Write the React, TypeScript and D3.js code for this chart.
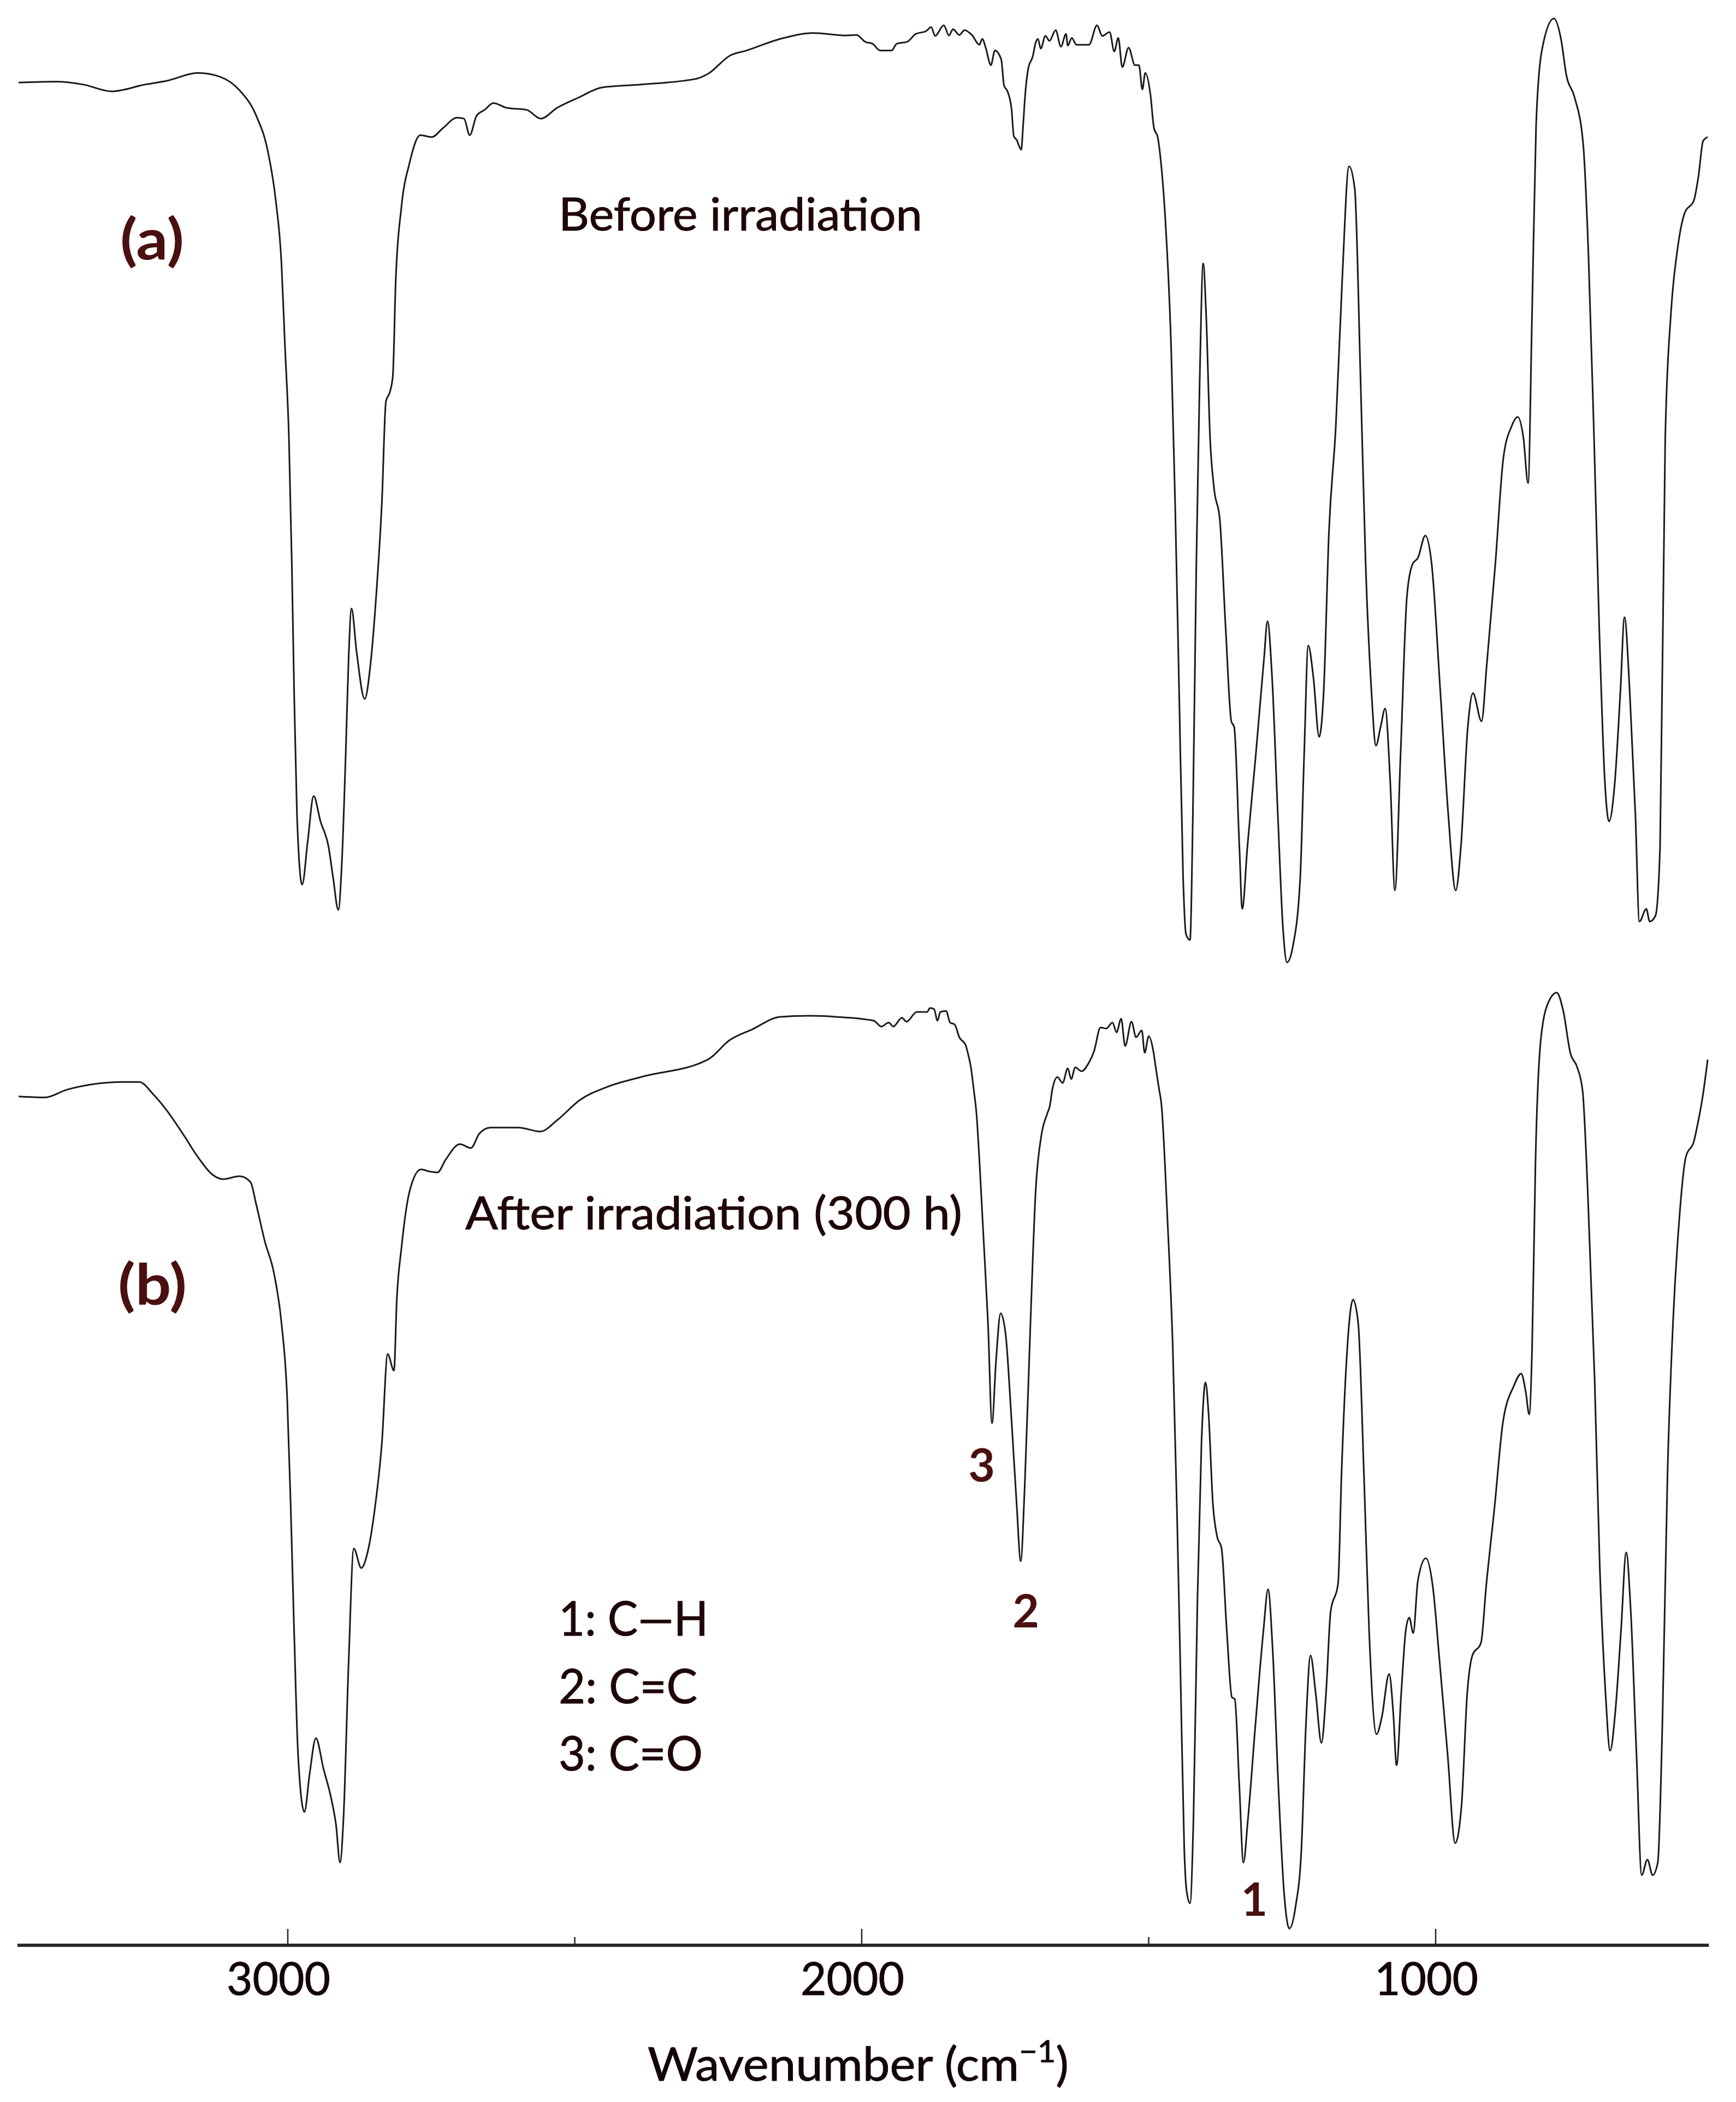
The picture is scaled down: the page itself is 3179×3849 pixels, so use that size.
import React from 'react';
import * as d3 from 'd3';

// Panel (a): before irradiation — wavenumber (cm-1) and relative transmittance (arb. 0-100)
const wavenumbersA = [
  3469, 3404, 3356, 3307, 3249, 3210, 3157, 3118, 3084, 3055, 3035, 3021, 3011, 3005, 2998, 2993, 2989, 2984,
  2975, 2965, 2955, 2943, 2929, 2921, 2912, 2906, 2899, 2894, 2889, 2880, 2866, 2856, 2846, 2836, 2829, 2822,
  2817, 2812, 2802, 2788, 2769, 2749, 2730, 2705, 2693, 2683, 2671, 2657, 2642, 2618, 2584, 2559, 2531, 2492,
  2453, 2385, 2288, 2268, 2229, 2201, 2142, 2084,
  2027, 2009, 1994, 1981, 1968, 1948, 1939, 1921, 1906, 1888, 1879, 1872, 1857, 1848, 1841, 1830, 1821, 1808,
  1795, 1790, 1784, 1775, 1768, 1757, 1752, 1746, 1739, 1735, 1730, 1722, 1719, 1715, 1710, 1702, 1697, 1693,
  1688, 1680, 1673, 1662, 1653, 1644, 1641, 1634, 1626, 1604, 1590, 1581, 1568, 1560, 1553, 1546, 1535, 1524,
  1517, 1511, 1506, 1497, 1491, 1484, 1479,
  1471, 1461,
  1454, 1447, 1440, 1435, 1428, 1423, 1417, 1411, 1405, 1400, 1393, 1386, 1376, 1366, 1356, 1351, 1342, 1337,
  1328, 1313, 1299, 1293, 1285, 1275, 1266, 1259, 1249, 1236, 1229, 1222, 1213, 1203, 1195, 1186, 1174, 1163,
  1151, 1141, 1131, 1122, 1112, 1104, 1096, 1088, 1079, 1071, 1061, 1050, 1040, 1031, 1018, 1007, 992, 978,
  965, 956, 944, 935, 920, 911, 896, 882, 868, 857, 847, 839, 832, 825, 815, 794, 782, 772, 758, 743, 734, 724,
  715, 705, 698, 688, 678, 671, 662, 652, 645, 633, 627, 617, 609, 600, 590, 579, 566, 550, 542, 534, 526,
];
const transmittanceA = [
  91.5, 91.6, 91.3, 90.6, 91.3, 91.7, 92.5, 92.1, 90.7, 88.1, 84.5, 79.4, 72.9, 64.5, 54.9, 42, 29, 16.2,
  9.0, 13.6, 18.1, 15.5, 12.9, 9.7, 6.4, 11, 22.6, 32.3, 37.4, 32.9, 28.1, 31.6, 38.7, 48.4, 58.7, 59.7,
  61.3, 71, 78.7, 83.2, 86.1, 85.9, 86.8, 87.9, 87.8, 86.1, 88.1, 88.7, 89.4, 88.9, 88.7, 87.8, 88.9, 90,
  91, 91.3, 91.9, 92.4, 94.3, 94.8, 96, 96.6,
  96.35, 96.4, 95.7, 95.5, 94.8, 94.8, 95.5, 95.7, 96.5, 96.8, 97.2, 96.3, 97.4, 96.35, 97.0, 96.4, 96.9, 96.4,
  95.4, 96.0, 95.1, 93.3, 94.8, 93.9, 91.2, 90.6, 88.8, 86.0, 85.6, 84.6, 86.9, 90.4, 92.9, 94.2, 95.6, 96.0,
  95.0, 96.3, 95.8, 96.9, 95.2, 96.5, 95.3, 96.1, 95.4, 95.4, 97.4, 96.3, 96.7, 94.7, 96.1, 93.1, 95.1, 93.3,
  93.3, 90.8, 92.5, 90.3, 86.9, 85.8, 83.5,
  77.4, 64.5,
  48.4, 29, 9.7, 3.9, 3.3, 16.2, 42, 61.3, 72.9, 67.8, 54.9, 49.7, 46.5, 35.5, 25.8, 25.2, 12.9, 6.5,
  12.9, 22.6, 32.3, 36.1, 30.3, 16.2, 4.5, 1.0, 2.6, 9.7, 22.6, 33.6, 30.3, 24.2, 29, 45.2, 56.1, 71,
  82.9, 80.6, 61.3, 42, 29, 23.3, 25.2, 27.1, 19.4, 8.4, 22.6, 38.7, 42, 42.6, 44.9, 42, 29, 16.2,
  8.4, 12.9, 25.2, 28.7, 25.8, 31.6, 42, 52.9, 56.1, 57.1, 54.9, 50.3, 67.8, 87.1, 94.8, 98.1, 96.1, 92.2, 90, 85.2, 74.2, 54.9,
  35.5, 19.4, 15.5, 19.4, 29, 36.5, 29, 16.2, 5.2, 6.5, 5.2, 5.8, 12.9, 54.9, 67.8, 74.2, 78.1, 79.4, 81.9, 85.5, 85.9,
];

// Panel (b): after irradiation (300 h)
const wavenumbersB = [
  3469, 3424, 3385, 3336, 3288, 3259, 3234, 3210, 3181, 3157, 3132, 3113, 3084, 3065, 3055, 3040, 3024, 3011,
  3001, 2995, 2989, 2982, 2971, 2962, 2951, 2938, 2924, 2916, 2909, 2903, 2894, 2885, 2872, 2861, 2849, 2836,
  2826, 2815, 2810, 2802, 2788, 2768, 2754, 2739, 2725, 2700, 2681, 2666, 2647, 2598, 2560, 2530, 2492, 2443,
  2385, 2268, 2230, 2191, 2142, 2094, 2045,
  1979, 1966, 1953, 1945, 1930, 1922, 1904, 1886, 1881, 1874, 1868, 1863, 1853, 1846, 1838, 1830, 1819, 1814,
  1810, 1805, 1800, 1795, 1788, 1780, 1773, 1766, 1758, 1749, 1740, 1730, 1723, 1716, 1706, 1697, 1687, 1677,
  1672, 1668, 1659, 1650, 1641, 1635, 1628, 1617, 1604, 1595, 1584, 1574, 1563, 1556, 1548, 1541, 1530, 1522,
  1512, 1507, 1500, 1492, 1487, 1482, 1478,
  1467, 1458, 1451, 1445, 1438, 1434, 1428, 1422, 1415, 1408, 1401,
  1396, 1388, 1381, 1373, 1364, 1355, 1350, 1342, 1335, 1327, 1314, 1300, 1292, 1284, 1274, 1264, 1255, 1244,
  1234, 1226, 1218, 1209, 1199, 1191, 1183, 1170, 1164, 1154, 1144, 1135, 1125, 1116, 1103, 1094, 1081, 1074,
  1068, 1060, 1052, 1046, 1039, 1031, 1017, 1005, 993, 979, 966, 955, 945, 936, 921, 912, 897, 883, 864, 851,
  843, 837, 832, 826, 816, 802, 789, 778, 765, 754, 744, 735, 723, 714, 704, 696, 687, 677, 668, 660, 650, 641,
  631, 622, 613, 605, 596, 586, 576, 564, 550, 543, 535, 526,
];
const transmittanceB = [
  87.2, 87.1, 87.9, 88.5, 88.7, 88.7, 87.4, 85.7, 83.2, 81, 79.2, 78.7, 79, 78.4, 76.1, 72.3, 69, 63.9,
  56.1, 45.2, 32.3, 19.4, 13.6, 17.5, 21.2, 18.1, 14.9, 12.3, 8.4, 12.9, 29, 40.7, 38.7, 40.3, 44.5, 51.6,
  60.7, 59, 66.4, 71.6, 77.4, 79.7, 79.5, 79.4, 80.7, 82.3, 81.9, 83.4, 84, 84, 83.6, 84.8, 86.8, 88.2,
  89.2, 91, 93, 94.1, 95.4, 95.5, 95.4,
  95.0, 94.4, 94.8, 94.4, 95.3, 94.9, 95.9, 95.9, 96.3, 96.2, 95.0, 95.9, 96.0, 94.8, 94.6, 93.3, 92.5, 91.4,
  90.3, 88.0, 85.4, 80.7, 72.9, 63.9, 53.6, 60, 64.9, 62.6, 54.9, 45.2, 39.4, 47.1, 63.9, 77.4, 83.2, 85.4,
  86.3, 87.9, 89.2, 88.6, 90.1, 89.0, 90.2, 89.8, 90.7, 91.9, 94.3, 94.2, 94.8, 93.8, 95.2, 92.4, 94.9, 93.3,
  94.0, 91.7, 93.4, 91.9, 89.9, 88.0, 86.5,
  74.2, 61.3, 45.2, 29, 9.7, 5.5, 4.2, 12.9, 35.5, 51.6, 57.8,
  54.9, 45.2, 42, 40.7, 32.3, 25.4, 25.2, 16.2, 8.4, 12.9, 22.6, 32.3, 36.5, 30.3, 16.2, 5.2, 1.6, 3.9,
  9.7, 22.6, 29.7, 25.8, 20.7, 25.8, 34.2, 37.1, 48.4, 61.3, 66.3, 63.9, 48.4, 32.3, 21.6, 23.3, 27.8, 23.9,
  18.4, 25.8, 32.3, 33.6, 32, 37.4, 39.7, 36.8, 29, 19.4, 10.4, 14.2, 25.8, 29.7, 31, 36.8, 45.2, 53.6, 57.4, 58.7,
  56.8, 54.5, 61.3, 80.6, 93.5, 97.1, 97.9, 96.1, 91.6, 90.3, 87.8, 77.4, 58.1, 38.7, 25.8, 19.9, 23.9, 32.3, 40.3, 34.2, 19.4, 7.1,
  8.7, 7.1, 8.4, 22.6, 48.4, 64.5, 74.2, 81, 82.6, 84.5, 87.1, 91,
];

const majorTicks = [3000, 2000, 1000];
const minorTicks = [2500, 1500];
const axisDomain = [3471, 524];

const panelATitle = 'Before irradiation';
const panelBTitle = 'After irradiation (300 h)';
const panelLabels = ['(a)', '(b)'];
const legendItems = ['1: C\u2014H', '2: C=C', '3: C=O'];
const bandNumbers = ['3', '2', '1'];
const bandWavenumbers = [1791, 1714, 1316];
const bandLevels = [47.6, 32.6, 2.9];

const W = 3179;
const H = 3849;

export default function App() {
  const x = d3.scaleLinear().domain([3000, 1000]).range([527, 2629]);
  const yA = d3.scaleLinear().domain([0, 100]).range([1780, 0]);
  const yB = d3.scaleLinear().domain([0, 100]).range([3560, 1780]);

  const dataA = wavenumbersA.map((w, i) => [w, transmittanceA[i]] as [number, number]);
  const dataB = wavenumbersB.map((w, i) => [w, transmittanceB[i]] as [number, number]);

  const lineA = d3.line<[number, number]>().x(d => x(d[0])).y(d => yA(d[1])).curve(d3.curveMonotoneX);
  const lineB = d3.line<[number, number]>().x(d => x(d[0])).y(d => yB(d[1])).curve(d3.curveMonotoneX);

  const axisY = 3562;
  const font = 'Lato, "Open Sans", sans-serif';
  const textColor = '#1f0707';
  const boldColor = '#4a1010';

  return (
    <svg
      width={W}
      height={H}
      viewBox={`0 0 ${W} ${H}`}
      style={{ position: 'absolute', left: 0, top: 0, background: '#fff' }}
    >
      <rect x={0} y={0} width={W} height={H} fill="#fff" />
      <path d={lineA(dataA) || ''} fill="none" stroke="#1a1a1a" strokeWidth={3} strokeLinejoin="round" />
      <path d={lineB(dataB) || ''} fill="none" stroke="#1a1a1a" strokeWidth={3} strokeLinejoin="round" />

      {/* axis */}
      <line x1={x(axisDomain[0])} x2={x(axisDomain[1])} y1={axisY} y2={axisY} stroke="#2a2a2a" strokeWidth={6} />
      {majorTicks.map(t => (
        <line key={'M' + t} x1={x(t)} x2={x(t)} y1={axisY} y2={axisY - 30} stroke="#222" strokeWidth={2.5} />
      ))}
      {minorTicks.map(t => (
        <line key={'m' + t} x1={x(t)} x2={x(t)} y1={axisY} y2={axisY - 15} stroke="#222" strokeWidth={2.5} />
      ))}
      {majorTicks.map(t => (
        <text key={'l' + t} x={x(t) - 17} y={3653} textAnchor="middle" fontFamily={font} fontSize={84}
          fill="#140606" stroke="#140606" strokeWidth={1} textLength={190} lengthAdjust="spacingAndGlyphs">{d3.format('d')(t)}</text>
      ))}
      <text x={1186} y={3810} fontFamily={font} fontSize={86} fill="#140606" stroke="#140606" strokeWidth={1}
        textLength={771} lengthAdjust="spacingAndGlyphs">
        Wavenumber (cm<tspan fontSize={56} dy={-34}>{'\u2212'}1</tspan><tspan dy={34}>)</tspan>
      </text>

      {/* panel labels */}
      <text x={220} y={475} fontFamily={font} fontWeight={700} fontSize={104} fill={boldColor} textLength={117} lengthAdjust="spacingAndGlyphs">{panelLabels[0]}</text>
      <text x={216} y={2389} fontFamily={font} fontWeight={700} fontSize={104} fill={boldColor} textLength={126} lengthAdjust="spacingAndGlyphs">{panelLabels[1]}</text>

      <text x={1023} y={422} fontFamily={font} fontSize={84} fill={textColor} stroke={textColor} strokeWidth={1}
        textLength={666} lengthAdjust="spacingAndGlyphs">{panelATitle}</text>
      <text x={852} y={2251} fontFamily={font} fontSize={84} fill={textColor} stroke={textColor} strokeWidth={1}
        textLength={910} lengthAdjust="spacingAndGlyphs">{panelBTitle}</text>

      {legendItems.map((s, i) => (
        <text key={s} x={1023} y={2995 + i * 123.5} fontFamily={font} fontSize={88} fill={textColor}
          stroke={textColor} strokeWidth={1}
          textLength={[274, 254, 264][i]} lengthAdjust="spacingAndGlyphs">{s}</text>
      ))}

      {bandNumbers.map((s, i) => (
        <text key={'b' + s} x={x(bandWavenumbers[i])} y={yB(bandLevels[i])} textAnchor="middle" fontFamily={font}
          fontWeight={700} fontSize={84} fill={boldColor}>{s}</text>
      ))}
    </svg>
  );
}
